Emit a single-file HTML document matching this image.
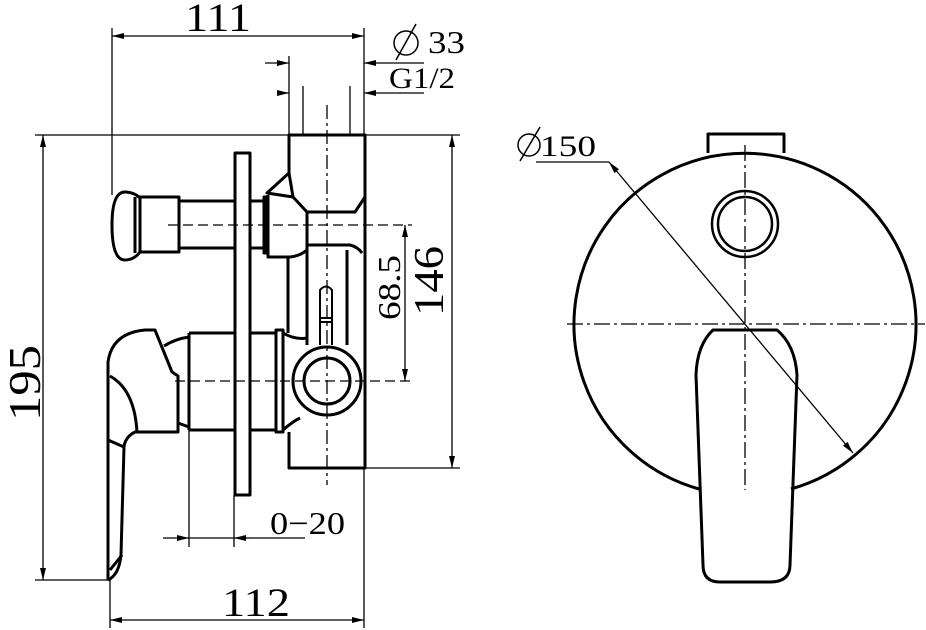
<!DOCTYPE html>
<html><head><style>
html,body{margin:0;padding:0;background:#fff;}
svg{display:block;}
text{font-family:"Liberation Serif",serif;fill:#000;}
</style></head><body>
<svg width="926" height="630" viewBox="0 0 926 630" xmlns="http://www.w3.org/2000/svg">
<defs>
<marker id="a" viewBox="0 0 12 6" refX="12" refY="3" markerWidth="12" markerHeight="6" orient="auto-start-reverse" markerUnits="userSpaceOnUse"><path d="M0,0 L12,3 L0,6 Z" fill="#000"/></marker>
</defs>
<g fill="none" stroke="#000" stroke-width="1.3">
<line x1="112" y1="28" x2="112" y2="195"/>
<line x1="364" y1="28" x2="364" y2="135"/>
<line x1="112" y1="36" x2="364" y2="36" marker-start="url(#a)" marker-end="url(#a)"/>
<line x1="289" y1="56" x2="289" y2="135"/>
<line x1="303" y1="86" x2="303" y2="135"/>
<line x1="350" y1="86" x2="350" y2="135"/>
<line x1="265" y1="63" x2="289" y2="63" marker-end="url(#a)"/>
<line x1="424" y1="63" x2="364" y2="63" marker-end="url(#a)"/>
<line x1="278" y1="93" x2="289" y2="93" marker-end="url(#a)"/>
<line x1="424" y1="93" x2="364" y2="93" marker-end="url(#a)"/>
<line x1="35" y1="135" x2="460" y2="135"/>
<line x1="43" y1="135" x2="43" y2="580" marker-start="url(#a)" marker-end="url(#a)"/>
<line x1="35" y1="580" x2="110" y2="580"/>
<line x1="365" y1="468" x2="460" y2="468"/>
<line x1="452" y1="135" x2="452" y2="468" marker-start="url(#a)" marker-end="url(#a)"/>
<line x1="405" y1="225" x2="405" y2="381" marker-start="url(#a)" marker-end="url(#a)"/>
<line x1="110" y1="580" x2="110" y2="628"/>
<line x1="364" y1="468" x2="364" y2="628"/>
<line x1="110" y1="620" x2="364" y2="620" marker-start="url(#a)" marker-end="url(#a)"/>
<line x1="189" y1="427" x2="189" y2="547"/>
<line x1="234" y1="495" x2="234" y2="547"/>
<line x1="163" y1="538" x2="189" y2="538" marker-end="url(#a)"/>
<line x1="250" y1="538" x2="234" y2="538" marker-end="url(#a)"/>
<line x1="234" y1="538" x2="189" y2="538"/>
<line x1="250" y1="538" x2="305" y2="538"/>
<line x1="327" y1="105" x2="327" y2="485" stroke-dasharray="14,4,3,4"/>
<line x1="168" y1="225" x2="412" y2="225" stroke-dasharray="10,5"/>
<line x1="175" y1="381" x2="412" y2="381" stroke-dasharray="10,5"/>
<line x1="536" y1="162" x2="609" y2="162"/>
<line x1="609" y1="162" x2="853" y2="453" marker-start="url(#a)" marker-end="url(#a)"/>
<line x1="745" y1="145" x2="745" y2="490" stroke-dasharray="16,4,3,4"/>
<line x1="567" y1="324" x2="925" y2="324" stroke-dasharray="16,4,3,4"/>
</g>
<g fill="none" stroke="#000" stroke-width="3" stroke-linejoin="round">
<path d="M699,489 A171,171 0 1 1 791,489"/>
<path d="M708,153 V134 H784 V153"/>
<circle cx="745" cy="224" r="33" stroke-width="2.5"/>
<circle cx="745" cy="224" r="27" stroke-width="2.5"/>
<path d="M713,330 H777 Q795,345 797,375 L790,565 Q790,582 770,582 H720 Q703,582 703,565 L696,375 Q697,345 713,330 Z"/>
<path d="M289,173 V135 H365 V468 H289 V432"/>
<path d="M289,173 L267,193 L293,197 Z"/>
<path d="M293,197 L307,212 H355 L365,197"/>
<path d="M307,212 V257"/>
<path d="M268,195 V257 H290 Q300,256 307,250 M307,245 H350 Q358,247 362,253"/>
<path d="M307,245 V345"/>
<path d="M288,258 V333"/>
<path d="M347,250 V345"/>
<path d="M320,345 V290 Q326,283 332,290 V345" stroke-width="2"/>
<line x1="320" y1="318" x2="332" y2="318" stroke-width="2"/>
<line x1="320" y1="322" x2="332" y2="322" stroke-width="2"/>
<path d="M283,333 Q295,340 307,338 M283,430 Q292,422 300,418"/>
<circle cx="327" cy="381" r="34"/>
<circle cx="327" cy="381" r="23"/>
<path d="M289,432 V468"/>
<rect x="264" y="197" width="4" height="56" fill="#000"/>
<rect x="235" y="153" width="15" height="342"/>
<path d="M125,192 Q112,192 112,225 Q112,260 125,260 Q134,260 140,252 V198 Q134,192 125,192 Z"/>
<line x1="135" y1="197" x2="135" y2="253"/>
<rect x="140" y="197" width="39" height="55"/>
<path d="M179,201 H235 M179,248 H235 M250,201 H264 M250,248 H264"/>
<path d="M189,333 H235 M189,430 H235 M189,333 V430 M250,333 H276 M250,430 H276"/>
<rect x="276" y="330" width="7" height="102"/>
<path d="M164,346 Q175,339 189,337 M178,423 L189,427"/>
<path d="M108,580 V362 Q112,333 145,330 H155 L172,372 L178,376 V432 H135 Q125,437 124,447 L121,555 Q119,575 108,580"/>
<path d="M110,376 Q135,390 137,433"/>
<path d="M108,440 L124,447 M110,570 L122,555"/>
</g>
<text x="185" y="31" font-size="40" textLength="66" lengthAdjust="spacingAndGlyphs">111</text>
<text x="222" y="616" font-size="40" textLength="68" lengthAdjust="spacingAndGlyphs">112</text>
<text x="270" y="534" font-size="32" textLength="75" lengthAdjust="spacingAndGlyphs">0−20</text>
<text x="428" y="53" font-size="32" textLength="37" lengthAdjust="spacingAndGlyphs">33</text>
<text x="389" y="88" font-size="30" textLength="66" lengthAdjust="spacingAndGlyphs">G1/2</text>
<text x="540" y="156" font-size="30" textLength="56" lengthAdjust="spacingAndGlyphs">150</text>
<g fill="none" stroke="#000" stroke-width="1.5">
<circle cx="406" cy="43" r="12"/><line x1="396" y1="60" x2="416" y2="24"/>
<circle cx="529" cy="145" r="11"/><line x1="520" y1="161" x2="540" y2="127"/>
</g>
<text font-size="46" transform="translate(40,421) rotate(-90)" textLength="76" lengthAdjust="spacingAndGlyphs">195</text>
<text font-size="42" transform="translate(443,316) rotate(-90)" textLength="70" lengthAdjust="spacingAndGlyphs">146</text>
<text font-size="32" transform="translate(400,320) rotate(-90)" textLength="65" lengthAdjust="spacingAndGlyphs">68.5</text>
</svg>
</body></html>
